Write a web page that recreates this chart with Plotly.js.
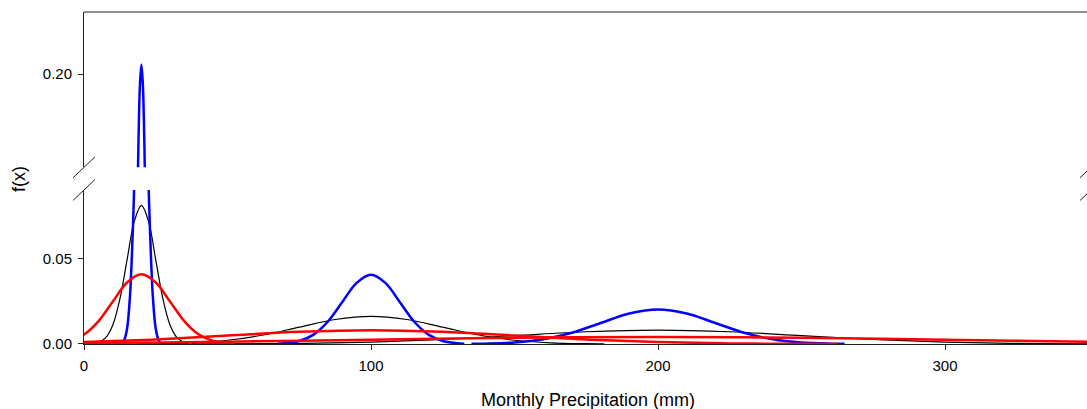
<!DOCTYPE html>
<html>
<head>
<meta charset="utf-8">
<script src="https://cdn.plot.ly/plotly-3.0.1.min.js"></script>
<style>
html,body{margin:0;padding:0;overflow:hidden;background:#fff;}
#chart{width:1091px;height:409px;}
</style>
</head>
<body>
<div id="chart"></div>
<script>
// Values (x in mm, y = f(x))
const xBlue20  = [13.5,14,15,16,17,17.5,18,18.5,19,19.5,20,20.5,21,21.5,22,22.5,23,24,25,26,26.5];
const yBlue20  = [0.00104,0.00225,0.00891,0.02747,0.06591,0.09293,0.12312,0.15322,0.17915,0.19675,0.203,0.19675,0.17915,0.15322,0.12312,0.09293,0.06591,0.02747,0.00891,0.00225,0.00104];

const xBlack20 = [3.75,5,7.5,10,12.5,15,17.5,20,22.5,25,27.5,30,32.5,35,36.25];
const yBlack20 = [0.00041,0.0009,0.00356,0.01096,0.0263,0.04913,0.07148,0.081,0.07148,0.04913,0.0263,0.01096,0.00356,0.0009,0.00041];

const xRed20   = [-12.5,-10,-5,0,5,10,15,20,25,30,35,40,45,50,52.5];
const yRed20   = [0.00021,0.00045,0.00179,0.00551,0.01322,0.02468,0.03592,0.0407,0.03592,0.02468,0.01322,0.00551,0.00179,0.00045,0.00021];

const xBlue100 = [67.5,70,75,80,85,90,95,100,105,110,115,120,125,130,132.5];
const yBlue100 = [0.00021,0.00045,0.00178,0.00548,0.01315,0.02456,0.03574,0.0405,0.03574,0.02456,0.01315,0.00548,0.00178,0.00045,0.00021];

const xBlack100 = [18.75,25,37.5,50,62.5,75,87.5,100,112.5,125,137.5,150,162.5,175,181.25];
const yBlack100 = [0.00008,0.00018,0.00071,0.00219,0.00526,0.00983,0.0143,0.0162,0.0143,0.00983,0.00526,0.00219,0.00071,0.00018,0.00008];

const xRed100  = [-62.5,-50,-25,0,25,50,75,100,125,150,175,200,225,250,262.5];
const yRed100  = [0.00004,0.00009,0.00036,0.0011,0.00263,0.00491,0.00715,0.0081,0.00715,0.00491,0.00263,0.0011,0.00036,0.00009,0.00004];

const xBlue200 = [135,140,150,160,170,180,190,200,210,220,230,240,250,260,265];
const yBlue200 = [0.0001,0.00022,0.00089,0.00273,0.00656,0.01225,0.01783,0.0202,0.01783,0.01225,0.00656,0.00273,0.00089,0.00022,0.0001];

const xBlack200 = [37.5,50,75,100,125,150,175,200,225,250,275,300,325,350,362.5];
const yBlack200 = [0.00004,0.00009,0.00036,0.0011,0.00263,0.00491,0.00715,0.0081,0.00715,0.00491,0.00263,0.0011,0.00036,0.00009,0.00004];

const xRed200  = [-125,-100,-50,0,50,100,150,200,250,300,350,400,450,500,525];
const yRed200  = [0.00002,0.00005,0.00018,0.00055,0.00133,0.00249,0.00362,0.0041,0.00362,0.00249,0.00133,0.00055,0.00018,0.00005,0.00002];

const xTickVals = [0,100,200,300];
const xTickText = ['0','100','200','300'];
const yLowTickVals = [0,0.05];
const yLowTickText = ['0.00','0.05'];
const yHighTickVals = [0.20];
const yHighTickText = ['0.20'];

const BLUE = '#0000ff', RED = '#ff0000', BLACK = '#000000';

function tr(x, y, color, width, yaxis) {
  return {x: x, y: y, type: 'scatter', mode: 'lines', xaxis: 'x', yaxis: yaxis,
          line: {color: color, width: width, shape: 'spline', smoothing: 1},
          hoverinfo: 'skip', showlegend: false};
}

const data = [
  tr(xBlack20, yBlack20, BLACK, 1.2, 'y'),
  tr(xBlack100, yBlack100, BLACK, 1.2, 'y'),
  tr(xBlack200, yBlack200, BLACK, 1.2, 'y'),
  tr(xBlue20, yBlue20, BLUE, 2.5, 'y'),
  tr(xBlue100, yBlue100, BLUE, 2.5, 'y'),
  tr(xBlue200, yBlue200, BLUE, 2.5, 'y'),
  tr(xRed20, yRed20, RED, 2.5, 'y'),
  tr(xRed100, yRed100, RED, 2.5, 'y'),
  tr(xRed200, yRed200, RED, 2.5, 'y'),
  tr(xBlue20, yBlue20, BLUE, 2.5, 'y2')
];

const D1 = 0.4639, D2 = 0.5322;
const SX = 0.01092, SY = 0.0316;
const AX = '#222222';
function slash(x, y) {
  return {type: 'line', xref: 'paper', yref: 'paper', x0: x - SX, y0: y - SY, x1: x + SX, y1: y + SY,
          line: {color: AX, width: 1}};
}

const FONT = 'Liberation Sans, Arial, Helvetica, sans-serif';

const layout = {
  width: 1091, height: 409,
  margin: {l: 84, r: 0, t: 12, b: 65, pad: 0},
  paper_bgcolor: '#ffffff', plot_bgcolor: '#ffffff',
  font: {family: FONT, size: 15, color: '#000'},
  xaxis: {
    range: [0, 350.87], anchor: 'y', showgrid: false, zeroline: false,
    showline: true, linecolor: AX, linewidth: 1,
    ticks: 'outside', ticklen: 5, tickcolor: AX, tickwidth: 1, ticklabelstandoff: 3,
    tickvals: xTickVals, ticktext: xTickText, tickfont: {size: 15, family: FONT}
  },
  yaxis: {
    domain: [0, D1], range: [0, 0.09], anchor: 'x', showgrid: false, zeroline: false,
    showline: true, linecolor: AX, linewidth: 1, mirror: true,
    ticks: 'outside', ticklen: 5, tickcolor: AX, tickwidth: 1, ticklabelstandoff: 3,
    tickvals: yLowTickVals, ticktext: yLowTickText, tickfont: {size: 15, family: FONT}
  },
  yaxis2: {
    domain: [D2, 1], range: [0.17, 0.22], anchor: 'x', showgrid: false, zeroline: false,
    showline: true, linecolor: AX, linewidth: 1, mirror: true,
    ticks: 'outside', ticklen: 5, tickcolor: AX, tickwidth: 1, ticklabelstandoff: 3,
    tickvals: yHighTickVals, ticktext: yHighTickText, tickfont: {size: 15, family: FONT}
  },
  shapes: [
    {type: 'line', xref: 'paper', yref: 'paper', x0: 0, x1: 1, y0: 1, y1: 1, line: {color: AX, width: 1}},
    slash(0, D1), slash(0, D2), slash(1, D1), slash(1, D2)
  ],
  annotations: [
    {text: 'f(x)', xref: 'paper', yref: 'paper', x: -0.064, y: 0.4955, xanchor: 'center', yanchor: 'middle',
     textangle: -90, showarrow: false, font: {size: 18, family: FONT, color: '#000'}},
    {text: 'Monthly Precipitation (mm)', xref: 'paper', yref: 'paper', x: 0.5, y: -0.1687,
     xanchor: 'center', yanchor: 'middle', showarrow: false, font: {size: 18, family: FONT, color: '#000'}}
  ]
};

Plotly.newPlot('chart', data, layout, {staticPlot: true, displayModeBar: false});
</script>
</body>
</html>
